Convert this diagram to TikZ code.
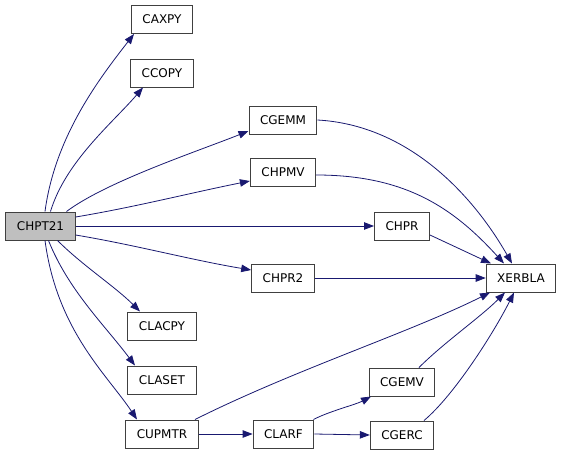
\documentclass[tikz,border=0pt]{standalone}
\usepackage{fontspec}
\setmainfont{DejaVu Sans}
\usetikzlibrary{arrows.meta}
\definecolor{edgeblue}{HTML}{191970}
\tikzset{fn/.style={draw=black!75,line width=1pt,fill=white,minimum height=28pt,
                    inner xsep=11pt,inner ysep=0pt,font=\fontsize{12}{14}\selectfont},
         root/.style={fn,fill=black!25},
         call/.style={edgeblue,line width=0.8pt,-{Triangle[length=10pt,width=7.5pt]}}}
\begin{document}
\begin{tikzpicture}[x=1pt,y=-1pt]
 \useasboundingbox (0,0) rectangle (563,456);
 \node[root] (CHPT21) at (40.5,226) {CHPT21};
 \node[fn] (CAXPY) at (162,19.5) {CAXPY};
 \node[fn] (CCOPY) at (162,73) {CCOPY};
 \node[fn] (CGEMM) at (283,120) {CGEMM};
 \node[fn] (CHPMV) at (283,172) {CHPMV};
 \node[fn] (CHPR) at (402,226) {CHPR};
 \node[fn] (CHPR2) at (283,278) {CHPR2};
 \node[fn] (XERBLA) at (521,278) {XERBLA};
 \node[fn] (CLACPY) at (162,326) {CLACPY};
 \node[fn] (CLASET) at (162,380) {CLASET};
 \node[fn] (CUPMTR) at (162,434) {CUPMTR};
 \node[fn] (CGEMV) at (402,382) {CGEMV};
 \node[fn] (CLARF) at (283.5,434) {CLARF};
 \node[fn] (CGERC) at (402,435) {CGERC};

 \draw[call] ([xshift=4.5pt]CHPT21.north) .. controls +(10,-75) and +(-35,45) .. ([xshift=-28pt]CAXPY.south);
 \draw[call] ([xshift=10pt]CHPT21.north) .. controls +(15,-50) and +(-30,35) .. ([xshift=-19pt]CCOPY.south);
 \draw[call] ([xshift=26pt]CHPT21.north) .. controls +(40,-30) and +(-50,20) .. ([yshift=-11pt]CGEMM.west);
 \draw[call] ([yshift=9pt]CHPT21.east) .. controls +(60,-10) and +(-60,12) .. ([yshift=-9pt]CHPMV.west);
 \draw[call] (CHPT21.east) -- (CHPR.west);
 \draw[call] ([yshift=-9pt]CHPT21.east) .. controls +(60,10) and +(-60,-10) .. ([yshift=8pt]CHPR2.west);
 \draw[call] ([xshift=17pt]CHPT21.south) .. controls +(25,25) and +(-25,-25) .. ([xshift=-22pt]CLACPY.north);
 \draw[call] ([xshift=8pt]CHPT21.south) .. controls +(20,50) and +(-30,-40) .. ([xshift=-27pt]CLASET.north);
 \draw[call] ([xshift=4.5pt]CHPT21.south) .. controls +(12,90) and +(-30,-45) .. ([xshift=-25pt]CUPMTR.north);

 \draw[call] (CGEMM.east) .. controls +(90,5) and +(-40,-70) .. ([xshift=-9pt]XERBLA.north);
 \draw[call] ([yshift=-3pt]CHPMV.east) .. controls +(90,0) and +(-50,-55) .. ([xshift=-17pt]XERBLA.north);
 \draw[call] ([yshift=-9pt]CHPR.east) -- ([xshift=-30pt]XERBLA.north);
 \draw[call] (CHPR2.east) -- (XERBLA.west);
 \draw[call] ([xshift=33pt]CUPMTR.north) .. controls +(100,-50) and +(-80,40) .. ([xshift=-31pt]XERBLA.south);
 \draw[call] ([xshift=17pt]CGEMV.north) .. controls +(25,-25) and +(-25,25) .. ([xshift=-16pt]XERBLA.south);
 \draw[call] ([xshift=22pt]CGERC.north) .. controls +(30,-25) and +(-20,40) .. ([xshift=-7pt]XERBLA.south);

 \draw[call] (CUPMTR.east) -- (CLARF.west);
 \draw[call] ([xshift=30pt]CLARF.north) .. controls +(15,-8) and +(-15,8) .. ([xshift=-31pt]CGEMV.south);
 \draw[call] (CLARF.east) -- (CGERC.west);
\end{tikzpicture}
\end{document}
